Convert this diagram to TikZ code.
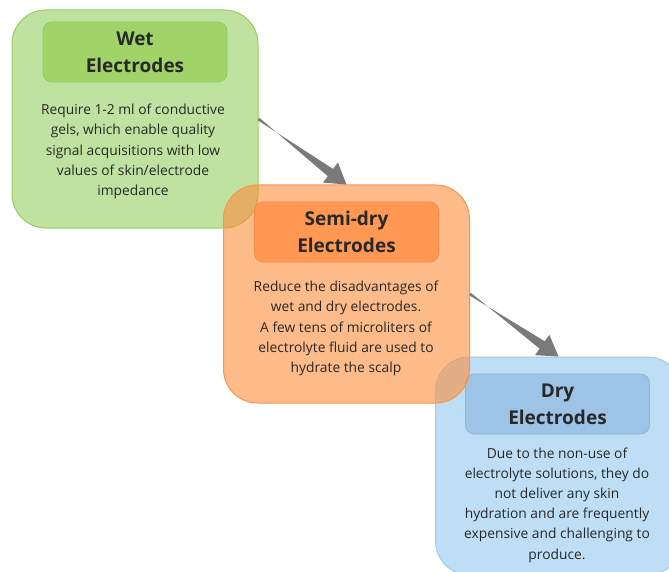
\documentclass[tikz,border=0pt]{standalone}
\usepackage{fontspec}
\setmainfont{Open Sans}
\usetikzlibrary{calc}
\definecolor{textgray}{RGB}{40,40,40}
\definecolor{arrowgray}{RGB}{122,122,122}
\definecolor{wetfill}{RGB}{150,206,97}
\definecolor{wetline}{RGB}{150,206,90}
\definecolor{wethead}{RGB}{160,212,104}
\definecolor{wetheadline}{RGB}{145,204,95}
\definecolor{semifill}{RGB}{253,141,60}
\definecolor{semiline}{RGB}{248,150,72}
\definecolor{semihead}{RGB}{255,152,82}
\definecolor{semiheadline}{RGB}{248,140,70}
\definecolor{dryfill}{RGB}{147,200,238}
\definecolor{dryline}{RGB}{160,205,235}
\definecolor{dryhead}{RGB}{157,196,230}
\definecolor{dryheadline}{RGB}{135,182,222}
% tapered arrow from #1 to #2
\newcommand{\taperarrow}[2]{%
  \path ($(#2)!20pt!(#1)$) coordinate (hb);
  \fill[arrowgray] ($(#1)!1.5pt!90:(#2)$) -- ($(hb)!4.5pt!-90:(#2)$)
    -- ($(hb)!12.5pt!-90:(#2)$) -- (#2) -- ($(hb)!12.5pt!90:(#2)$)
    -- ($(hb)!4.5pt!90:(#2)$) -- ($(#1)!1.5pt!-90:(#2)$) -- cycle;
}
\begin{document}
\begin{tikzpicture}[x=1pt,y=-1pt,
    box/.style={rounded corners=34pt, minimum width=246pt, minimum height=218pt,
      fill opacity=0.6, line width=1pt, inner sep=0pt},
    head/.style={rounded corners=9pt, minimum width=184pt, minimum height=60pt,
      line width=0.8pt, font=\fontsize{19}{27}\selectfont\bfseries,
      text=textgray, align=center},
    body/.style={font=\fontsize{13.8}{20.2}\selectfont, text=textgray, align=center}
  ]
  \useasboundingbox (0,0) rectangle (669,572);
  \clip (0,0) rectangle (669,572);
  % wet
  \node[box, fill=wetfill, draw=wetline] (wet) at (135,119) {};
  \node[head, fill=wethead, draw=wetheadline] (wettitle) at (135,52) {Wet\\Electrodes};
  \node[body] (wettext) at (133,151.5) {Require 1-2 ml of conductive\\gels, which enable quality\\signal acquisitions with low\\values of skin/electrode\\impedance};
  % dry
  \node[box, fill=dryfill, draw=dryline] (dry) at (558.5,466) {};
  \node[head, fill=dryhead, draw=dryheadline] (drytitle) at (557.5,404) {Dry\\Electrodes};
  \node[body] (drytext) at (557,505) {Due to the non-use of\\electrolyte solutions, they do\\not deliver any skin\\hydration and are frequently\\expensive and challenging to\\produce.};
  % semi-dry (on top)
  \node[box, fill=semifill, draw=semiline] (semi) at (346.5,294) {};
  \node[head, fill=semihead, draw=semiheadline] (semititle) at (346.5,232) {Semi-dry\\Electrodes};
  \node[body] (semitext) at (346,328.5) {Reduce the disadvantages of\\wet and dry electrodes.\\A few tens of microliters of\\electrolyte fluid are used to\\hydrate the scalp};
  % arrows
  \taperarrow{wet.east}{semi.north}
  \taperarrow{semi.east}{dry.north}
\end{tikzpicture}
\end{document}
